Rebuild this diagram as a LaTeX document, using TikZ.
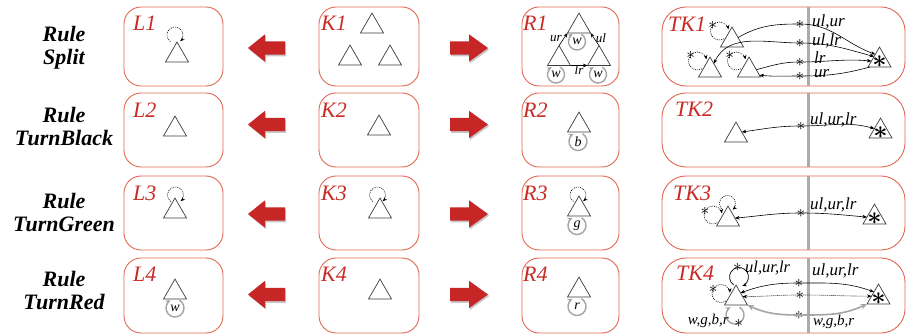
\documentclass[tikz,border=0pt]{standalone}
\usepackage{fontspec}
\setmainfont{Liberation Serif}
\usetikzlibrary{shapes.geometric,arrows.meta}

\definecolor{framered}{RGB}{224,104,82}
\definecolor{labelred}{RGB}{200,44,38}
\definecolor{arrowred}{RGB}{198,38,38}
\definecolor{loopgray}{RGB}{165,165,165}
\definecolor{trigray}{RGB}{60,60,60}
\definecolor{dividergray}{RGB}{172,172,172}

\begin{document}
\begin{tikzpicture}[x=1pt,y=1pt,
  >={Stealth[length=4.5pt,width=3.6pt]},
  frame/.style={draw=framered,line width=0.9pt,rounded corners=17pt},
  tkframe/.style={draw=framered,line width=0.9pt,rounded corners=24pt},
  divider/.style={draw=dividergray,line width=3pt},
  boxlabel/.style={text=labelred,font=\fontsize{22}{22}\selectfont\itshape,anchor=base west,inner sep=0pt},
  rulename/.style={font=\fontsize{22}{23}\selectfont\bfseries\itshape,align=center,inner sep=0pt},
  tri/.style={regular polygon,regular polygon sides=3,draw=trigray,line width=0.7pt,
              minimum size=26.56pt,inner sep=0pt,outer sep=0pt,anchor=side 2},
  bigast/.style={font=\fontsize{24}{24}\selectfont\boldmath,inner sep=0pt},
  ast/.style={font=\fontsize{18}{18}\selectfont,inner sep=0pt},
  edge/.style={draw=black,line width=0.6pt},
  dots/.style={dash pattern=on 1pt off 1pt},
  gedge/.style={draw=loopgray,line width=1.6pt,
                {Stealth[length=6.5pt,width=6pt]}-{Stealth[length=6.5pt,width=6pt]}},
  dloop/.style={draw=black,line width=0.6pt,dots,->},
  sloop/.style={draw=black,line width=0.7pt,->},
  gloop/.style={draw=loopgray,line width=1.4pt,-{Stealth[length=5pt,width=4.5pt]}},
  looplabel/.style={font=\fontsize{14}{14}\selectfont\itshape,inner sep=0pt},
  edgelabel/.style={font=\fontsize{17}{17}\selectfont\itshape,inner sep=0pt,anchor=base west},
  colourlabel/.style={font=\fontsize{15}{15}\selectfont\itshape,inner sep=0pt,anchor=base west},
  smalllabel/.style={font=\fontsize{13}{13}\selectfont\itshape,inner sep=0pt},
  arrowfill/.style={fill=arrowred},
  arrowshadow/.style={fill=black,opacity=0.22},
]
\useasboundingbox (0,0) rectangle (912,-336);
\fill[white] (0,0) rectangle (912,-336);

% ---- rule names -------------------------------------------------------
\node[rulename] (name1) at (64,-48)    {Rule\\Split};
\node[rulename] (name2) at (64,-126.5) {Rule\\TurnBlack};
\node[rulename] (name3) at (64,-212.5) {Rule\\TurnGreen};
\node[rulename] (name4) at (64,-290)   {Rule\\TurnRed};

% ---- frames and dividers -----------------------------------------------
\foreach \tp/\bt in {7/86,93/167,176/250,258/333}{
  \draw[frame] (124,-\tp) rectangle (223,-\bt);
  \draw[frame] (319,-\tp) rectangle (419,-\bt);
  \draw[frame] (522,-\tp) rectangle (619,-\bt);
  \draw[tkframe] (662,-\tp) rectangle (905,-\bt);
  \draw[divider] (808,-\tp) -- (808,-\bt);
}

% ---- frame captions ----------------------------------------------------
\foreach \i/\yb in {1/31,2/118,3/201,4/282}{
  \node[boxlabel] (capL\i) at (133,-\yb) {L\i};
  \node[boxlabel] (capK\i) at (321,-\yb) {K\i};
  \node[boxlabel] (capR\i) at (523,-\yb) {R\i};
}
\node[boxlabel] (capTK1) at (668,-32)  {TK1};
\node[boxlabel] (capTK2) at (675,-117) {TK2};
\node[boxlabel] (capTK3) at (673,-201) {TK3};
\node[boxlabel] (capTK4) at (676,-281) {TK4};

% ---- block arrows between the frames ------------------------------------
\foreach \yc in {48,124.5,214,294.5}{
  \fill[arrowshadow,shift={(1.2,-1.6)}] (248,-\yc) -- ++(17,13.7) -- ++(0,-7) -- ++(20,0)
     -- ++(0,-13.4) -- ++(-20,0) -- ++(0,-7) -- cycle;
  \fill[arrowfill] (248,-\yc) -- ++(17,13.7) -- ++(0,-7) -- ++(20,0)
     -- ++(0,-13.4) -- ++(-20,0) -- ++(0,-7) -- cycle;
  \fill[arrowshadow,shift={(1.2,-1.6)}] (488,-\yc) -- ++(-19,13.7) -- ++(0,-7) -- ++(-19,0)
     -- ++(0,-13.4) -- ++(19,0) -- ++(0,-7) -- cycle;
  \fill[arrowfill] (488,-\yc) -- ++(-19,13.7) -- ++(0,-7) -- ++(-19,0)
     -- ++(0,-13.4) -- ++(19,0) -- ++(0,-7) -- cycle;
}

% ---- L column -----------------------------------------------------------
\node[tri] (L1t) at (177,-62) {};
\coordinate (L1c) at (175,-35);
\draw[dloop] ([shift={(235:8)}]L1c) arc[start angle=235,end angle=-50,radius=8pt];
\node[tri] (L2t) at (175,-136) {};
\node[tri] (L3t) at (175,-218) {};
\coordinate (L3c) at (175.5,-195);
\draw[dloop] ([shift={(235:8)}]L3c) arc[start angle=235,end angle=-50,radius=8pt];
\node[tri] (L4t) at (175,-299) {};
\node[looplabel] (L4w) at (175,-308) {w};
\draw[gloop] ([shift={(60:9)}]L4w.center) arc[start angle=60,end angle=-240,radius=9pt];

% ---- K column -----------------------------------------------------------
\node[tri] (K1a) at (372,-33) {};
\node[tri] (K1b) at (350,-65) {};
\node[tri] (K1c) at (390,-65) {};
\node[tri] (K2t) at (379,-135) {};
\node[tri] (K3t) at (380,-218) {};
\coordinate (K3c) at (377.5,-195);
\draw[dloop] ([shift={(235:8)}]K3c) arc[start angle=235,end angle=-50,radius=8pt];
\node[tri] (K4t) at (380,-299) {};

% ---- R column -----------------------------------------------------------
\node[tri] (R1a) at (579,-33) {};
\node[tri] (R1b) at (559,-65.5) {};
\node[tri] (R1c) at (599,-65.5) {};
\draw[edge,->] (R1b.corner 1) -- (R1a.corner 2);
\draw[edge,->] (R1c.corner 1) -- (R1a.corner 3);
\draw[edge,->] (R1b.corner 3) -- (R1c.corner 2);
\node[smalllabel] (R1ur) at (556,-38.5) {ur};
\node[smalllabel] (R1ul) at (601,-38) {ul};
\node[smalllabel] (R1lr) at (579,-70) {lr};
\node[looplabel] (R1aw) at (577,-41.5) {w};
\draw[gloop] ([shift={(60:8.5)}]R1aw.center) arc[start angle=60,end angle=-240,radius=8.5pt];
\node[looplabel] (R1bw) at (556,-74.5) {w};
\draw[gloop] ([shift={(60:8.5)}]R1bw.center) arc[start angle=60,end angle=-240,radius=8.5pt];
\node[looplabel] (R1cw) at (598,-74.5) {w};
\draw[gloop] ([shift={(60:8.5)}]R1cw.center) arc[start angle=60,end angle=-240,radius=8.5pt];

\node[tri] (R2t) at (579,-132) {};
\node[looplabel] (R2b) at (578,-141.5) {b};
\draw[gloop] ([shift={(60:9)}]R2b.center) arc[start angle=60,end angle=-240,radius=9pt];

\node[tri] (R3t) at (579,-216) {};
\coordinate (R3c) at (578,-195);
\draw[dloop] ([shift={(235:8)}]R3c) arc[start angle=235,end angle=-50,radius=8pt];
\node[looplabel] (R3g) at (577,-225.5) {g};
\draw[gloop] ([shift={(60:9)}]R3g.center) arc[start angle=60,end angle=-240,radius=9pt];

\node[tri] (R4t) at (579,-297) {};
\node[looplabel] (R4r) at (577,-306.5) {r};
\draw[gloop] ([shift={(60:9)}]R4r.center) arc[start angle=60,end angle=-240,radius=9pt];

% ---- TK1 ----------------------------------------------------------------
\node[tri] (A1) at (732,-47) {};
\node[tri] (B1) at (710,-77) {};
\node[tri] (C1) at (749,-77) {};
\node[tri] (T1) at (879.5,-67) {};
\node[bigast] (T1x) at ([yshift=-1.5pt]T1.center) {$\ast$};

\coordinate (A1c) at (719.5,-31);
\draw[dloop] ([shift={(-60:9)}]A1c) arc[start angle=-60,end angle=-350,radius=9pt];
\node[ast] (A1x) at ([shift={(140:9)}]A1c) {$\ast$};
\coordinate (B1c) at (697.5,-61);
\draw[dloop] ([shift={(-60:9)}]B1c) arc[start angle=-60,end angle=-350,radius=9pt];
\node[ast] (B1x) at ([shift={(140:9)}]B1c) {$\ast$};
\coordinate (C1c) at (736.5,-61);
\draw[dloop] ([shift={(-60:9)}]C1c) arc[start angle=-60,end angle=-350,radius=9pt];
\node[ast] (C1x) at ([shift={(140:9)}]C1c) {$\ast$};

\node[ast] (s11) at (800,-24) {$\ast$};
\node[ast] (s12) at (800,-43) {$\ast$};
\node[ast] (s13) at (800,-62) {$\ast$};
\node[ast] (s14) at (800,-76) {$\ast$};
\draw[edge,->]  (A1.25) to[out=30,in=180] (s11.center) to[out=0,in=160] (T1.125);
\draw[edge,<->] (B1.60) to[out=65,in=180] (s12.center) to[out=0,in=165] (T1.145);
\draw[edge,->]  (C1.5) to[out=15,in=180] (s13.center) to[out=0,in=175] (T1.185);
\draw[edge,->]  (T1.215) to[out=195,in=0] (s14.center) to[out=180,in=-5] (C1.-25);
\node[edgelabel] (t11) at (812,-27) {ul,ur};
\node[edgelabel] (t12) at (812,-46) {ul,lr};
\node[edgelabel] (t13) at (814,-64) {lr};
\node[edgelabel] (t14) at (814,-78) {ur};

% ---- TK2 ----------------------------------------------------------------
\node[tri] (P2) at (736,-142) {};
\node[tri] (T2) at (880.5,-138) {};
\node[bigast] (T2x) at ([yshift=-1.5pt]T2.center) {$\ast$};
\node[ast] (s2) at (801,-126) {$\ast$};
\draw[edge,<->] (P2.30) to[out=8,in=180] (s2.center) to[out=0,in=165] (T2.155);
\node[edgelabel] (t2) at (810,-125) {ul,ur,lr};

% ---- TK3 ----------------------------------------------------------------
\node[tri] (P3) at (728,-226) {};
\node[tri] (T3) at (874.5,-224) {};
\node[bigast] (T3x) at ([yshift=-1.5pt]T3.center) {$\ast$};
\coordinate (P3top) at (727.5,-203.5);
\draw[dloop] ([shift={(235:8)}]P3top) arc[start angle=235,end angle=-50,radius=8pt];
\coordinate (P3c) at (713,-215);
\draw[dloop] ([shift={(-60:9)}]P3c) arc[start angle=-60,end angle=-350,radius=9pt];
\node[ast] (P3x) at ([shift={(155:9)}]P3c) {$\ast$};
\node[ast] (s3) at (801,-213) {$\ast$};
\draw[edge,<->] (P3.10) to[out=5,in=180] (s3.center) to[out=0,in=175] (T3.178);
\node[edgelabel] (t3) at (810,-210) {ul,ur,lr};

% ---- TK4 ----------------------------------------------------------------
\node[tri] (P4) at (736,-305) {};
\node[tri] (T4) at (878.5,-304) {};
\node[bigast] (T4x) at ([yshift=-1.5pt]T4.center) {$\ast$};
\coordinate (P4top) at (739,-277);
\draw[sloop] ([shift={(235:9.5)}]P4top) arc[start angle=235,end angle=-70,radius=9.5pt];
\node[ast] (P4tx) at ([shift={(100:9.5)}]P4top) {$\ast$};
\node[edgelabel,font=\fontsize{16.5}{16.5}\selectfont\itshape] (t43) at (745,-273) {ul,ur,lr};
\coordinate (P4c) at (721,-293.5);
\draw[dloop] ([shift={(-55:9)}]P4c) arc[start angle=-55,end angle=-355,radius=9pt];
\node[ast] (P4cx) at ([shift={(150:9)}]P4c) {$\ast$};
\coordinate (P4bot) at (735,-315);
\draw[gloop] ([shift={(60:9)}]P4bot) arc[start angle=60,end angle=-240,radius=9pt];
\node[ast] (P4bx) at ([shift={(-65:9)}]P4bot) {$\ast$};
\node[colourlabel,anchor=base east] (t44) at (729,-324) {w,g,b,r};

\node[ast] (s41) at (799,-283) {$\ast$};
\node[ast] (s42) at (800,-295) {$\ast$};
\node[ast] (s43) at (799,-315) {$\ast$};
\draw[edge,<->] (P4.50) to[out=20,in=180] (s41.center) to[out=0,in=160] (T4.130);
\draw[edge,dots,<->] (P4.15) to[out=0,in=180] (s42.center) to[out=0,in=180] (T4.170);
\draw[gedge] (P4.corner 3) to[out=-25,in=180] (s43.center) to[out=0,in=-155] (T4.corner 2);
\node[edgelabel] (t41) at (812,-276) {ul,ur,lr};
\node[colourlabel] (t42) at (813,-326) {w,g,b,r};
\end{tikzpicture}
\end{document}
